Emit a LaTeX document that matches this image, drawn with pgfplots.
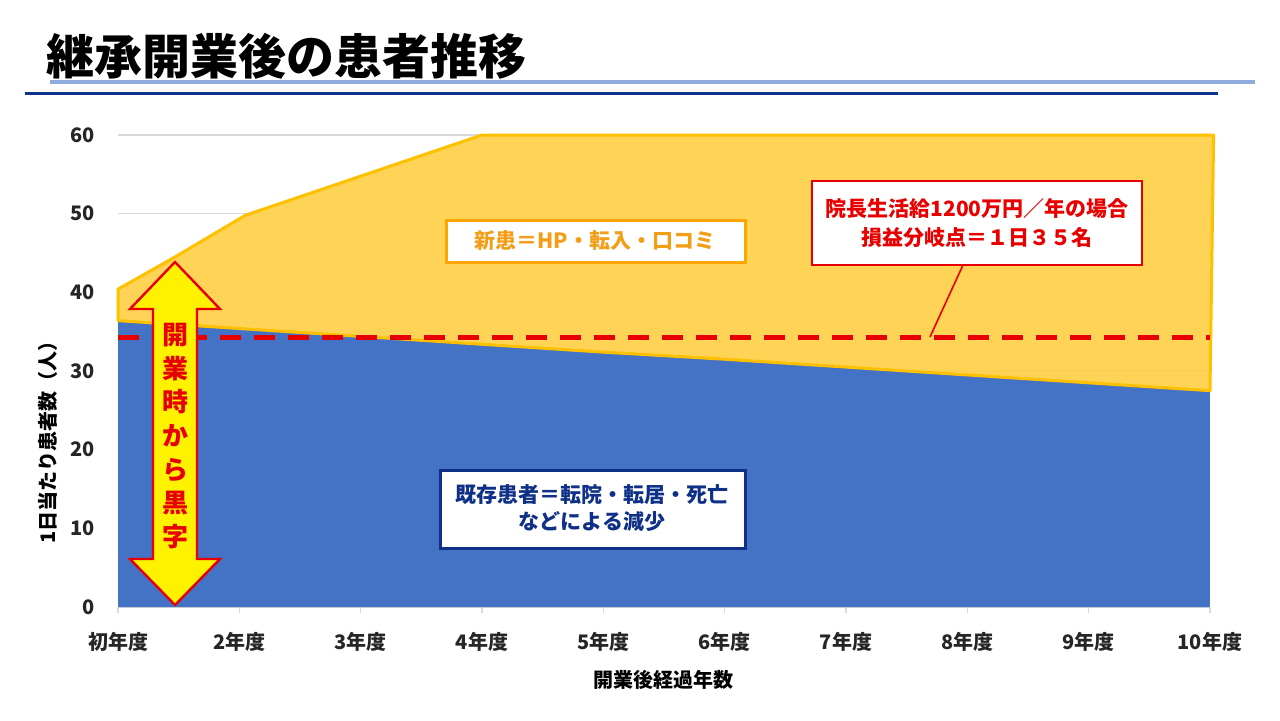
\documentclass[border=0pt]{standalone}
\usepackage{fontspec}
\setmainfont{Noto Sans CJK JP}
\usepackage{pgfplots}
\pgfplotsset{compat=1.18}

\definecolor{blueA}{RGB}{68,114,196}
\definecolor{yelF}{RGB}{255,208,72}
\definecolor{yelE}{RGB}{255,192,0}
\definecolor{redA}{RGB}{232,0,0}
\definecolor{orgT}{RGB}{242,158,22}
\definecolor{orgB}{RGB}{255,165,0}
\definecolor{navy}{RGB}{14,48,135}
\definecolor{gridc}{RGB}{217,217,217}
\definecolor{ltline}{RGB}{143,170,220}
\definecolor{dkline}{RGB}{12,52,140}

% 既存患者 (blue area), 初年度 = 0 ... 10年度 = 9
\pgfplotstableread{
x y
0 36.4
1 35.4
2 34.4
3 33.4
4 32.4
5 31.5
6 30.5
7 29.5
8 28.5
9 27.5
}\existing

\begin{document}
\begin{tikzpicture}
\path[use as bounding box] (0,0) rectangle (640pt,360pt);

\begin{axis}[
  at={(59pt,56.5pt)}, anchor=south west,
  scale only axis, width=546pt, height=236pt,
  xmin=0, xmax=9, ymin=0, ymax=60,
  clip=false,
  axis x line*=bottom, axis y line*=left,
  x axis line style={gridc, line width=0.75pt},
  y axis line style={draw=none},
  xtick={0,...,9},
  xticklabels={初年度,2年度,3年度,4年度,5年度,6年度,7年度,8年度,9年度,10年度},
  ytick={0,10,...,60},
  ymajorgrids, grid style={gridc, line width=0.6pt},
  tick align=outside, major tick length=3pt,
  xtick style={gridc, line width=0.75pt},
  ytick style={draw=none},
  tick label style={font=\bfseries\fontsize{10}{12}\selectfont, black!85},
  yticklabel style={xshift=-5pt},
  xticklabel style={yshift=-6pt},
  /pgf/number format/assume math mode=true,
  xlabel={開業後経過年数},
  ylabel={1日当たり患者数（人）},
  label style={font=\bfseries\fontsize{10}{12}\selectfont, black},
  xlabel style={at={(axis description cs:0.5,-0.1547)}, anchor=center},
  ylabel style={at={(axis description cs:-0.0641,0.36)}, anchor=center},
]
\addplot[fill=blueA, draw=none] table[x=x, y=y] {\existing} \closedcycle;
\addplot[fill=yelF, fill opacity=0.93, draw=yelE, line width=1.5pt, line join=round]
  coordinates {(0,40.4)(0.47,44.5)(1.05,49.8)(3,60)(9.03,60)
  (9,27.5)(8,28.5)(7,29.5)(6,30.5)(5,31.5)(4,32.4)(3,33.4)(2,34.4)(1,35.4)(0,36.4)} -- cycle;
\addplot[redA, line width=2.5pt, dash pattern=on 10.5pt off 6.5pt]
  coordinates {(0,34.3)(9,34.3)};
\end{axis}

\begin{scope}[x=0.5pt, y=-0.5pt, shift={(0,360pt)}]
  % title and rules
  \node[anchor=west, inner sep=0pt] at (46,56)
    {\bfseries\fontsize{24}{28}\selectfont 継承開業後の患者推移};
  \draw[ltline, line width=2pt] (50,82) -- (1255,82);
  \draw[dkline, line width=1.5pt] (25,93) -- (1218,93);

  % callout: break-even
  \draw[redA, line width=0.8pt] (963,265) -- (930,337);
  \draw[redA, line width=1pt, fill=white] (812,181) rectangle (1142,265);
  \node[redA, align=center, font=\bfseries\fontsize{10.5}{14.5}\selectfont] at (977,223)
    {院長生活給1200万円／年の場合\\損益分岐点＝１日３５名};

  % new patients label
  \draw[orgB, line width=1.5pt, fill=white] (446,220) rectangle (745,262);
  \node[orgT, font=\bfseries\fontsize{10.5}{13}\selectfont] at (595,241)
    {新患＝HP・転入・口コミ};

  % existing patients label
  \draw[navy, line width=1.5pt, fill=white] (440,470) rectangle (745,548);
  \node[navy, align=center, font=\bfseries\fontsize{10.5}{13.5}\selectfont] at (592,508)
    {既存患者＝転院・転居・死亡\\などによる減少};

  % double arrow
  \draw[redA, line width=1.2pt, fill=yellow, line join=miter]
    (175,262) -- (220,309) -- (197,309) -- (197,559) -- (220,559) -- (175,605)
    -- (130,559) -- (153,559) -- (153,309) -- (130,309) -- cycle;
  \node[redA, align=center, font=\bfseries\fontsize{13}{16.8}\selectfont] at (175,436)
    {開\\業\\時\\か\\ら\\黒\\字};
\end{scope}
\end{tikzpicture}
\end{document}
